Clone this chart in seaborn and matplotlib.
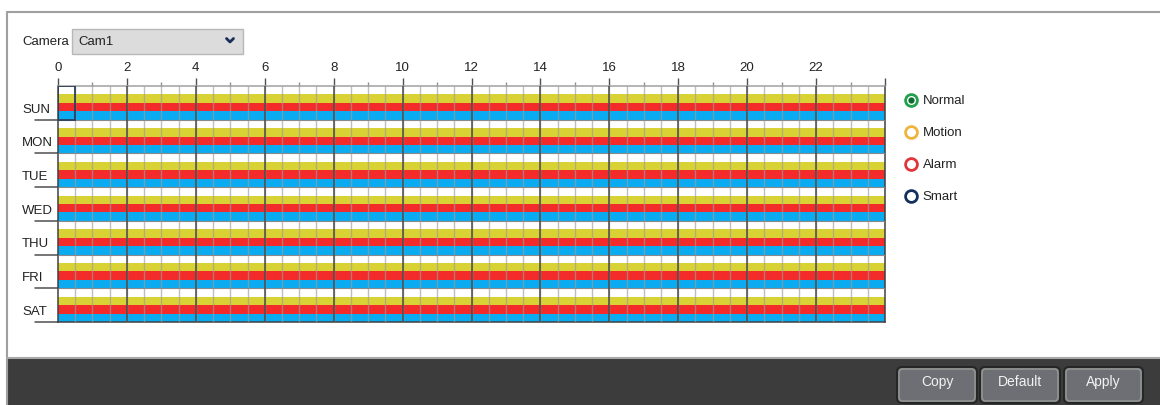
import numpy as np
import pandas as pd
import matplotlib.pyplot as plt
import matplotlib.patches as mpatches
from matplotlib.lines import Line2D
import seaborn as sns

# recording schedule: hours covered per day (every schedule starts at 0:00)
days = ['SUN', 'MON', 'TUE', 'WED', 'THU', 'FRI', 'SAT']
record_types = ['Normal', 'Motion', 'Alarm', 'Smart']
normal_hours = [0, 0, 0, 0, 0, 0, 0]
motion_hours = [24, 24, 24, 24, 24, 24, 24]
alarm_hours = [24, 24, 24, 24, 24, 24, 24]
smart_hours = [24, 24, 24, 24, 24, 24, 24]

hour_ticks = [0, 2, 4, 6, 8, 10, 12, 14, 16, 18, 20, 22, 24]
hour_labels = ['0', '2', '4', '6', '8', '10', '12', '14', '16', '18', '20', '22', '']
band_colors = ['#ffffff', '#d9d234', '#f42b2b', '#0aabf0']
legend_colors = ['#22a04b', '#f0b43c', '#e0353a', '#15305e']
camera_name = 'Cam1'
buttons = ['Copy', 'Default', 'Apply']

df = pd.DataFrame({
    'day': days * 4,
    'type': np.repeat(record_types, len(days)),
    'hours': normal_hours + motion_hours + alarm_hours + smart_hours,
})

sns.set_style('white')
plt.rcParams['font.family'] = ['Liberation Sans', 'DejaVu Sans']
W, H = 1160, 405
fig = plt.figure(figsize=(W / 100, H / 100), dpi=100)

# background "UI" layer in pixel coordinates
ui = fig.add_axes([0, 0, 1, 1])
ui.set_xlim(0, W)
ui.set_ylim(H, 0)
ui.axis('off')

ui.plot([6.5, 6.5], [H, 11.5], color='#a0a0a0', lw=1.5)
ui.plot([6.5, W], [11.5, 11.5], color='#a0a0a0', lw=1.5)
ui.add_patch(mpatches.Rectangle((7, 358), W - 7, H - 358, fc='#3c3c3c', ec='none'))
ui.plot([7, W], [358, 358], color='#a8a8a8', lw=1.5)

ui.text(22, 42, 'Camera', fontsize=9.5, va='center', ha='left', color='#222222')
ui.add_patch(mpatches.Rectangle((72, 29), 171, 25, fc='#dcdcdc', ec='#b8b8b8', lw=1))
ui.text(78, 42, camera_name, fontsize=9.5, va='center', ha='left', color='#222222')
ui.plot([226.5, 230, 233.5], [38.5, 42, 38.5], color='#1a2e5a', lw=2, solid_capstyle='round')

btn_x = [(897, 977), (980, 1060), (1064, 1143)]
for (x0, x1), name in zip(btn_x, buttons):
    ui.add_patch(mpatches.FancyBboxPatch((x0, 367), x1 - x0, 36,
                                         boxstyle='round,pad=0,rounding_size=5',
                                         fc='#6e6f74', ec='#262626', lw=1.5))
    ui.add_patch(mpatches.FancyBboxPatch((x0 + 2, 369), x1 - x0 - 4, 32,
                                         boxstyle='round,pad=0,rounding_size=4',
                                         fc='none', ec='#909490', lw=1.2))
    ui.text((x0 + x1) / 2, 382, name, fontsize=10, ha='center', va='center', color='#f2f2f2')

# schedule grid
ax = fig.add_axes([58 / W, (H - 322) / H, 827 / W, 236 / H])
sns.barplot(data=df, x='hours', y='day', hue='type', order=days, hue_order=record_types,
            palette=band_colors, orient='h', width=1, dodge=True, errorbar=None,
            saturation=1, linewidth=0, legend=False, ax=ax)
ax.set_xlim(0, 24)
ax.set_ylim(6.5, -0.5)
ax.set_xlabel('')
ax.set_ylabel('')
ax.set_yticks([])

ax.xaxis.tick_top()
ax.set_xticks(hour_ticks, hour_labels)
ax.set_xticks(np.arange(1, 24, 2), minor=True)
ax.tick_params(axis='x', which='major', length=6, width=1, color='#505050', pad=2.8,
               labelsize=9.5, labelcolor='#222222', top=True, bottom=False)
ax.tick_params(axis='x', which='minor', length=3, width=1, color='#909090', top=True, bottom=False)

for side, c in [('top', '#a0a0a0'), ('left', '#404040'), ('right', '#404040'), ('bottom', '#404040')]:
    ax.spines[side].set_visible(True)
    ax.spines[side].set_color(c)
    ax.spines[side].set_linewidth(1.1)

ax.vlines(np.arange(0.5, 24, 0.5), -0.5, 6.5, colors='#9c9c9c', lw=1, alpha=0.65, zorder=3)
ax.vlines(np.arange(2, 24, 2), -0.5, 6.5, colors='#4a4a4a', lw=1.1, zorder=4)
ax.hlines(np.arange(0.5, 6.5, 1), 0, 24, colors='#8a8a8a', lw=0.8, zorder=3)

ytr = ax.get_yaxis_transform()
for i, d in enumerate(days):
    ax.text(-36 / 827, i + 0.2, d, transform=ytr, ha='left', va='center',
            fontsize=9.5, color='#222222')
    ax.plot([-23 / 827, 0], [i + 0.5, i + 0.5], transform=ytr, color='#505050',
            lw=1.1, clip_on=False)

ax.add_patch(mpatches.Rectangle((0, -0.5), 0.5, 1, fill=False, ec='#2c3e5c', lw=1.3, zorder=5))

# legend
handles = []
for name, c in zip(record_types, legend_colors):
    ring = Line2D([], [], ls='none', marker='o', ms=8.5, mfc='white', mec=c, mew=2)
    if name == 'Normal':
        handles.append((ring, Line2D([], [], ls='none', marker='o', ms=4.5, mfc='#0d6b30', mec='none')))
    else:
        handles.append(ring)
ui.legend(handles, record_types, loc='upper left', bbox_to_anchor=(904.4, 95),
          bbox_transform=ui.transData, frameon=False, fontsize=9.5, borderpad=0,
          borderaxespad=0, handlelength=1, handletextpad=0.4, labelspacing=1.5,
          labelcolor='#222222')

fig.savefig('out.png', dpi=100)
